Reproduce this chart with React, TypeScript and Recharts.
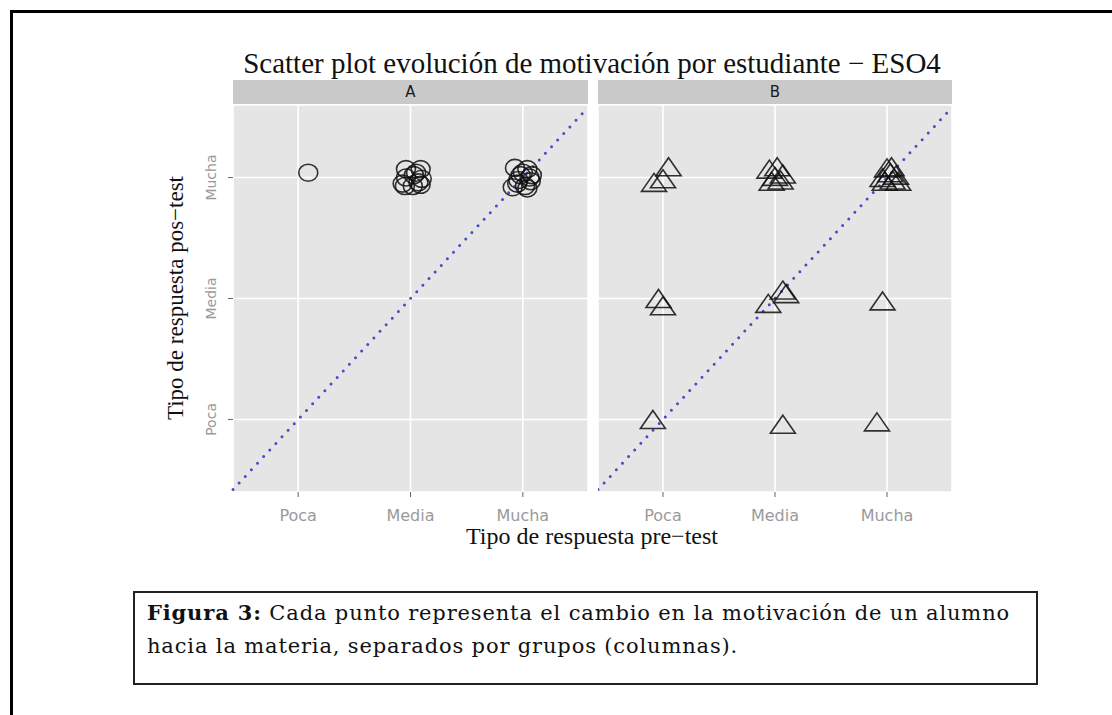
import React from 'react';
import { ScatterChart, Scatter, XAxis, YAxis, CartesianGrid, ReferenceLine } from 'recharts';

const levels = ['Poca', 'Media', 'Mucha'];
const levelTicks = [1, 2, 3];

// grupo A (círculos): respuesta pre-test / pos-test, con jitter
const preA = [1.09, 1.96, 2.09, 2.05, 1.93, 2.02, 2.09, 2.1, 1.96, 2.03, 1.95, 2.07, 2.93, 2.91, 2.98, 3.04, 3.07, 3.02, 3.08, 2.96, 3.04, 3.0, 2.95, 3.06];
const postA = [3.04, 3.07, 3.07, 3.04, 2.95, 2.93, 2.94, 2.99, 3.0, 3.02, 2.93, 2.96, 3.08, 2.92, 3.02, 3.07, 2.97, 2.93, 3.02, 2.98, 2.91, 3.04, 2.95, 3.0];

// grupo B (triángulos)
const preB = [0.92, 1.05, 1.0, 1.95, 2.02, 2.05, 1.97, 2.07, 2.0, 2.96, 3.0, 3.03, 3.05, 3.08, 3.1, 2.98, 3.04, 0.96, 1.0, 1.94, 2.07, 2.1, 2.96, 0.91, 2.07, 2.91];
const postB = [2.96, 3.09, 2.99, 3.07, 3.09, 2.98, 2.97, 3.03, 3.01, 3.0, 3.08, 3.04, 2.98, 3.02, 2.97, 2.97, 3.09, 2.0, 1.94, 1.96, 2.07, 2.04, 1.98, 1.0, 0.96, 0.98];

const pointsA = preA.map((pre, i) => ({ pre, post: postA[i] }));
const pointsB = preB.map((pre, i) => ({ pre, post: postB[i] }));

const xDomain: [number, number] = [0.42, 3.58];
const yDomain: [number, number] = [0.4, 3.6];
const diagonal = [
  { x: 0.42, y: 0.42 },
  { x: 3.58, y: 3.58 },
];

const PANEL_TOP = 105;
const PANEL_H = 387;
const AXIS_H = 40;

const XTick = (props: any) => {
  const { x, y, payload } = props;
  return (
    <text x={x} y={y + 22} textAnchor="middle" fill="#9a9a9a" fontSize={16} fontFamily="DejaVu Sans">
      {levels[payload.value - 1]}
    </text>
  );
};

const YTick = (props: any) => {
  const { x, y, payload } = props;
  return (
    <text
      transform={`translate(${x - 10},${y}) rotate(-90)`}
      textAnchor="middle"
      fill="#9a9a9a"
      fontSize={14}
      fontFamily="DejaVu Sans"
    >
      {levels[payload.value - 1]}
    </text>
  );
};

const circleShape = (props: any) => (
  <ellipse cx={props.cx} cy={props.cy} rx={9.5} ry={8.5} fill="none" stroke="#111" strokeOpacity={0.85} strokeWidth={1.6} />
);

const triangleShape = (props: any) => {
  const { cx, cy } = props;
  return (
    <path
      d={`M${cx},${cy - 9}L${cx + 12.5},${cy + 9}L${cx - 12.5},${cy + 9}Z`}
      fill="none"
      stroke="#111"
      strokeOpacity={0.85}
      strokeWidth={1.6}
    />
  );
};

function Panel({ data, shape, showY }: { data: any[]; shape: any; showY: boolean }) {
  const w = showY ? 435 : 354;
  return (
    <ScatterChart width={w} height={PANEL_H + AXIS_H} margin={{ top: 0, right: 0, bottom: 0, left: 0 }}>
      <CartesianGrid fill="#e5e5e5" stroke="#ffffff" strokeWidth={1.6} />
      <XAxis
        type="number"
        dataKey="pre"
        domain={xDomain}
        ticks={levelTicks}
        allowDataOverflow
        axisLine={false}
        tickLine={{ stroke: '#666' }}
        tickSize={5}
        height={AXIS_H}
        tick={XTick}
      />
      <YAxis
        type="number"
        dataKey="post"
        domain={yDomain}
        ticks={levelTicks}
        allowDataOverflow
        axisLine={false}
        tickLine={{ stroke: '#666' }}
        tickSize={5}
        width={showY ? 80 : 0}
        hide={!showY}
        tick={YTick}
      />
      <ReferenceLine
        segment={diagonal}
        stroke="#4a4ac8"
        strokeWidth={3}
        strokeDasharray="0 9"
        strokeLinecap="round"
      />
      <Scatter data={data} shape={shape} isAnimationActive={false} />
    </ScatterChart>
  );
}

const stripStyle: React.CSSProperties = {
  position: 'absolute',
  top: 80,
  height: 24,
  background: '#c9c9c9',
  color: '#1a1a1a',
  fontFamily: 'DejaVu Sans',
  fontSize: 15,
  lineHeight: '24px',
  textAlign: 'center',
};

export default function App() {
  return (
    <div style={{ position: 'absolute', left: 0, top: 0, width: 1112, height: 715, overflow: 'hidden', background: '#fff' }}>
      <div style={{ position: 'absolute', left: 10, top: 10, width: 1200, height: 800, borderLeft: '3px solid #000', borderTop: '3px solid #000' }} />

      <div
        style={{
          position: 'absolute',
          left: 192,
          width: 800,
          top: 47,
          textAlign: 'center',
          fontFamily: 'Liberation Serif',
          fontSize: 29,
          lineHeight: '32px',
          color: '#111',
        }}
      >
        Scatter plot evolución de motivación por estudiante − ESO4
      </div>

      <div style={{ ...stripStyle, left: 233, width: 355 }}>A</div>
      <div style={{ ...stripStyle, left: 598, width: 354 }}>B</div>

      <div style={{ position: 'absolute', left: 153, top: PANEL_TOP }}>
        <Panel data={pointsA} shape={circleShape} showY />
      </div>
      <div style={{ position: 'absolute', left: 598, top: PANEL_TOP }}>
        <Panel data={pointsB} shape={triangleShape} showY={false} />
      </div>

      <div
        style={{
          position: 'absolute',
          left: 192,
          width: 800,
          top: 523,
          textAlign: 'center',
          fontFamily: 'Liberation Serif',
          fontSize: 24,
          lineHeight: '26px',
          color: '#111',
        }}
      >
        Tipo de respuesta pre−test
      </div>
      <div
        style={{
          position: 'absolute',
          left: 176 - 200,
          top: 298 - 13,
          width: 400,
          textAlign: 'center',
          fontFamily: 'Liberation Serif',
          fontSize: 23,
          lineHeight: '26px',
          color: '#111',
          transform: 'rotate(-90deg)',
        }}
      >
        Tipo de respuesta pos−test
      </div>

      <div
        style={{
          position: 'absolute',
          left: 133,
          top: 591,
          width: 905,
          height: 94,
          boxSizing: 'border-box',
          border: '2px solid #222',
          padding: '3px 0 0 12px',
          fontFamily: 'DejaVu Serif',
          fontSize: 21,
          letterSpacing: 0.85,
          lineHeight: '33px',
          color: '#111',
        }}
      >
        <b>Figura 3:</b> Cada punto representa el cambio en la motivación de un alumno
        <br />
        hacia la materia, separados por grupos (columnas).
      </div>
    </div>
  );
}
